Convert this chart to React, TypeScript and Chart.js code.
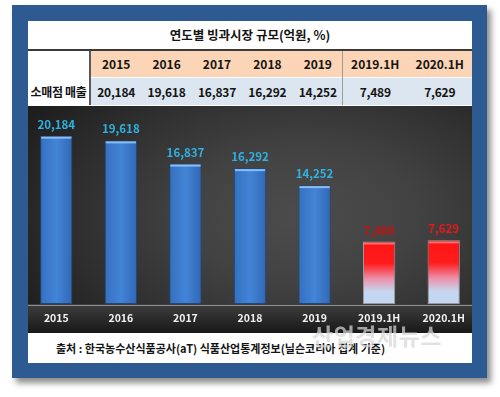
import React, { useEffect, useRef } from 'react';
import { Chart, registerables } from 'chart.js';

Chart.register(...registerables);

const chartTitle = '연도별 빙과시장 규모(억원, %)';
const rowLabel = '소매점 매출';
const categories = ['2015', '2016', '2017', '2018', '2019', '2019.1H', '2020.1H'];
const salesValues = [20184, 19618, 16837, 16292, 14252, 7489, 7629];
const sourceText = '출처 : 한국농수산식품공사(aT) 식품산업통계정보(닐슨코리아 집계 기준)';
const watermarkText = '산업경제뉴스';

const FONT = '"Noto Sans CJK KR", "Noto Sans", sans-serif';
const fmt = (v: number) => v.toLocaleString('en-US');
const isHalf = (i: number) => categories[i].includes('H');

const bandPlugin = {
  id: 'band',
  beforeDraw(chart: any) {
    const { ctx, chartArea, width, height } = chart;
    const b = chartArea.bottom;
    const g = ctx.createLinearGradient(0, b, 0, height);
    g.addColorStop(0, '#3e3e3e');
    g.addColorStop(1, '#181818');
    ctx.save();
    ctx.fillStyle = g;
    ctx.fillRect(0, b, width, height - b);
    ctx.fillStyle = '#8c8c8c';
    ctx.fillRect(0, b + 1, width, 1);
    ctx.restore();
  },
};

const labelPlugin = {
  id: 'valueLabels',
  afterDatasetsDraw(chart: any) {
    const { ctx } = chart;
    const meta = chart.getDatasetMeta(0);
    ctx.save();
    meta.data.forEach((bar: any, i: number) => {
      const half = isHalf(i);
      const w = bar.width;
      ctx.fillStyle = half ? 'rgba(255,120,120,0.9)' : 'rgba(140,195,245,0.95)';
      ctx.fillRect(bar.x - w / 2 + 1, bar.y + 1, w - 2, 2);
      ctx.font = `bold 11.5px ${FONT}`;
      ctx.textAlign = 'center';
      ctx.textBaseline = 'alphabetic';
      ctx.fillStyle = half ? (i === 5 ? '#c81010' : '#e81818') : '#2fb2e2';
      ctx.fillText(fmt(salesValues[i]), bar.x, bar.y - 7);
    });
    ctx.restore();
  },
};

function ChartCanvas() {
  const ref = useRef<HTMLCanvasElement>(null);
  useEffect(() => {
    const canvas = ref.current!;
    const chart = new Chart(canvas, {
      type: 'bar',
      data: {
        labels: categories,
        datasets: [
          {
            data: salesValues,
            categoryPercentage: 1,
            barPercentage: 0.5,
            borderWidth: 1,
            borderSkipped: false,
            borderColor: (c: any) => (isHalf(c.dataIndex) ? '#9a9a9a' : '#23467a'),
            backgroundColor: (c: any) => {
              const ch = c.chart;
              const ys = ch.scales.y;
              const xs = ch.scales.x;
              if (!ys || !xs || c.type !== 'data') return '#3c78c8';
              const x = xs.getPixelForValue(c.dataIndex);
              const top = ys.getPixelForValue(c.raw);
              const bottom = ys.getPixelForValue(0);
              if (!isFinite(x) || !isFinite(top)) return '#3c78c8';
              if (isHalf(c.dataIndex)) {
                const g = ch.ctx.createLinearGradient(0, top, 0, bottom);
                g.addColorStop(0, '#ff1414');
                g.addColorStop(0.35, '#ff1c1c');
                g.addColorStop(0.6, '#ec92ac');
                g.addColorStop(0.8, '#c6d6ef');
                g.addColorStop(1, '#c3d8f1');
                return g;
              }
              const g = ch.ctx.createLinearGradient(x - 16, 0, x + 16, 0);
              g.addColorStop(0, '#3570bf');
              g.addColorStop(0.5, '#4384d6');
              g.addColorStop(1, '#3168b6');
              return g;
            },
          } as any,
        ],
      },
      options: {
        animation: false,
        responsive: false,
        maintainAspectRatio: false,
        layout: { padding: 0 },
        plugins: { legend: { display: false }, tooltip: { enabled: false } },
        scales: {
          x: {
            grid: { display: false, drawTicks: false },
            border: { display: false },
            ticks: {
              color: '#f2f2f2',
              font: { family: FONT, size: 10.5, weight: 'bold' },
              padding: 8,
            },
            afterFit: (s: any) => {
              s.height = 29;
            },
          },
          y: { display: false, min: 0, max: 23740 },
        },
      } as any,
      plugins: [bandPlugin, labelPlugin],
    });
    return () => chart.destroy();
  }, []);
  return (
    <canvas
      ref={ref}
      width={452}
      height={227}
      style={{ position: 'absolute', left: -4, top: 0, width: 452, height: 227 }}
    />
  );
}

const abs = (l: number, t: number, w: number, h: number, extra: any = {}) => ({
  position: 'absolute' as const,
  left: l,
  top: t,
  width: w,
  height: h,
  ...extra,
});

export default function App() {
  const cellText = {
    fontFamily: FONT,
    fontWeight: 700,
    fontSize: 12,
    color: '#141414',
    textAlign: 'center' as const,
    lineHeight: '26px',
  };
  const cols = categories.map((c, i) =>
    i < 5 ? { left: 91 + i * 50.4, width: 50.4 } : { left: 343 + (i - 5) * 64.5, width: 64.5 }
  );
  return (
    <div style={abs(0, 0, 500, 397, { position: 'fixed', background: '#ffffff', overflow: 'hidden' })}>
      <div
        style={abs(12, 5, 475, 373, {
          background: '#2e5a92',
          boxShadow: '4px 5px 6px rgba(0,0,0,0.45)',
        })}
      />
      <div style={abs(28, 21, 444, 342, { background: '#ffffff' })} />
      <div
        style={abs(28, 21, 444, 28, {
          fontFamily: FONT,
          fontWeight: 700,
          fontSize: 12.5,
          lineHeight: '28px',
          textAlign: 'center',
          color: '#141414',
        })}
      >
        {chartTitle}
      </div>
      <div style={abs(28, 49, 444, 2, { background: '#3a3a3a' })} />
      <div style={abs(91, 51, 381, 26, { background: '#fbd5b5' })} />
      <div style={abs(91, 78, 381, 27, { background: '#dce6f1' })} />
      <div style={abs(89, 51, 2, 54, { background: '#5a5a5a' })} />
      <div style={abs(342, 51, 1, 54, { background: '#9c9c9c' })} />
      {categories.map((c, i) => (
        <div key={'h' + c} style={abs(cols[i].left, 51, cols[i].width, 26, cellText)}>
          {c}
        </div>
      ))}
      <div style={abs(28, 78, 61, 27, { ...cellText, lineHeight: '27px', letterSpacing: -0.3 })}>
        {rowLabel}
      </div>
      {salesValues.map((v, i) => (
        <div
          key={'v' + i}
          style={abs(cols[i].left, 78, cols[i].width, 27, { ...cellText, lineHeight: '27px', fontSize: 12, letterSpacing: -0.2 })}
        >
          {fmt(v)}
        </div>
      ))}
      <div
        style={abs(28, 106, 444, 227, {
          overflow: 'hidden',
          background:
            'radial-gradient(ellipse 75% 85% at 62% 48%, #4c4c4c 0%, #424242 35%, #2e2e2e 70%, #1c1c1c 100%)',
        })}
      >
        <ChartCanvas />
      </div>
      <div
        style={abs(28, 333, 444, 30, {
          fontFamily: FONT,
          fontWeight: 700,
          fontSize: 11,
          lineHeight: '30px',
          color: '#141414',
          paddingLeft: 28,
          boxSizing: 'border-box',
          whiteSpace: 'nowrap',
        })}
      >
        {sourceText}
      </div>
      <div
        style={abs(312, 318, 150, 34, {
          fontFamily: FONT,
          fontWeight: 700,
          fontSize: 23,
          lineHeight: '34px',
          color: 'rgba(215,215,215,0.72)',
          letterSpacing: 0.5,
          whiteSpace: 'nowrap',
        })}
      >
        {watermarkText}
      </div>
    </div>
  );
}
